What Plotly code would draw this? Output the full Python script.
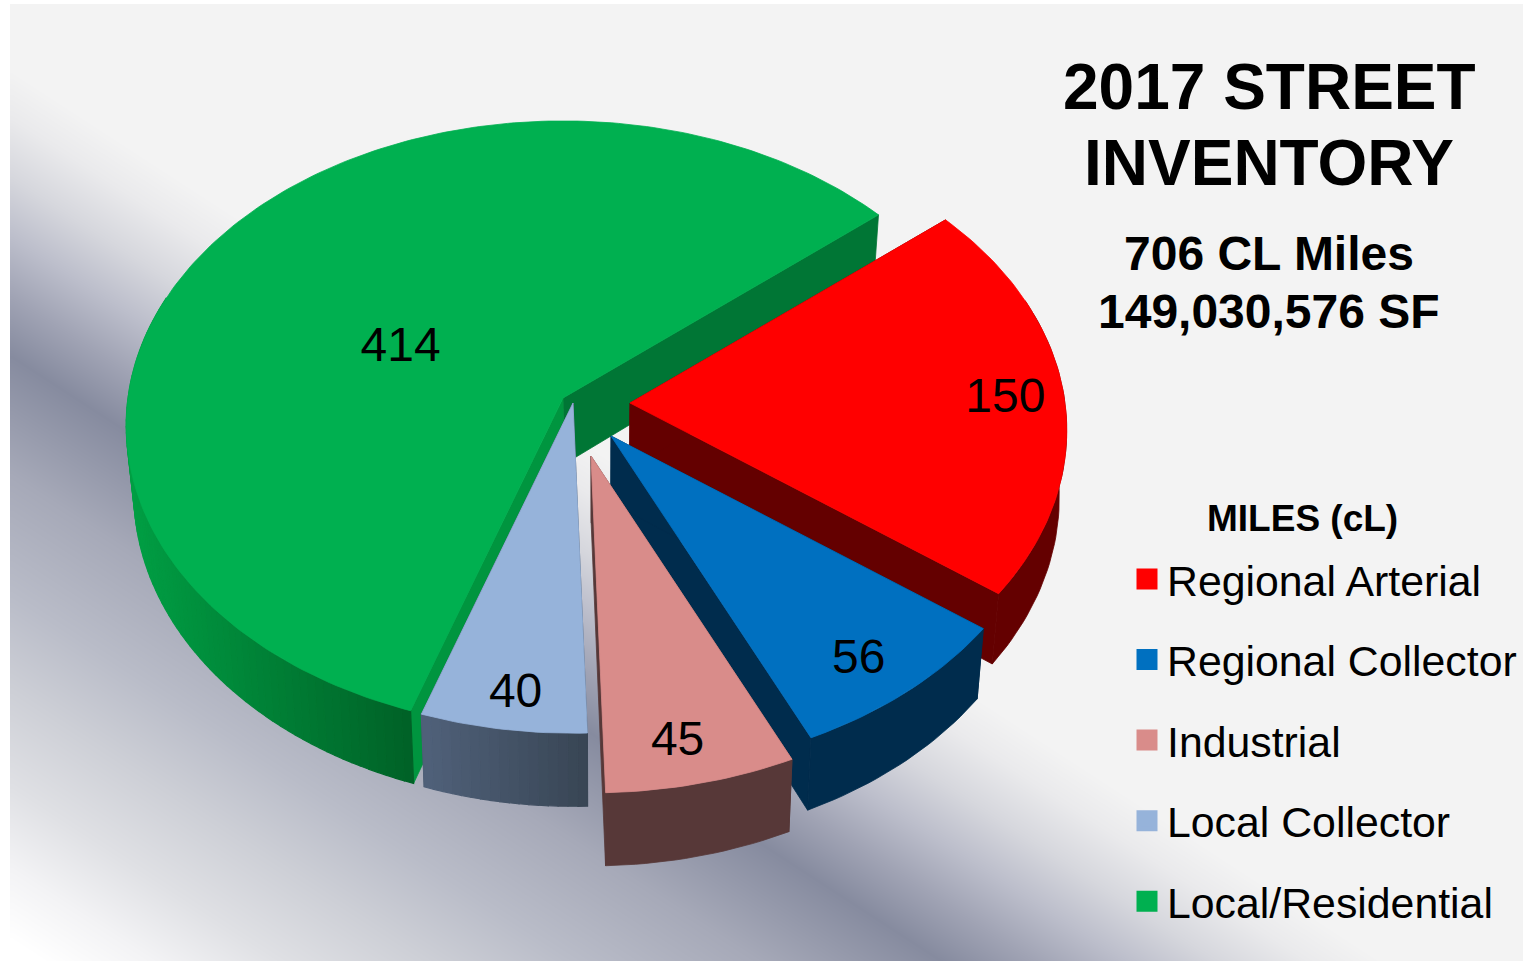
import numpy as np
import plotly.graph_objects as go

# ---- data ----
categories = ["Regional Arterial", "Regional Collector", "Industrial", "Local Collector", "Local/Residential"]
miles = [150, 56, 45, 40, 414]
tick_labels = ["150", "56", "45", "40", "414"]

# ---- style / 3-D pie layout ----
top_colors = ["#ff0000", "#0070c0", "#d98c8a", "#96b3da", "#00b050"]
start_wall = ["#640000", "#002c4d", "#573838", "#3e4b5c", "#00953f"]
end_wall = ["#640000", "#002c4d", "#573838", "#3e4b5c", "#007635"]
arc_left = ["#640000", "#002c4d", "#573838", "#50617a", "#009f44"]
arc_right = ["#640000", "#002c4d", "#573838", "#384554", "#006127"]
apex_x = [630, 611, 591, 573, 563]
apex_y = [403, 436, 456, 403, 398]
gain = [1.0, 1.01, 1.015, 0.995, 1.0]
label_r = [0.865, 0.86, 0.87, 0.89, 0.42]
label_shift = [0, 1.0, 1.2, -0.6, -9]
draw_order = [4, 0, 1, 2, 3]
START_DEG = 50.1
A, B, P, H = 435.0, 302.0, 0.09, 66.5
VANISH_X, LEAN = 600.0, 0.016
LABEL_DROP = 4.5
FONT = "Liberation Sans"


def project(i, angle_deg, r=1.0):
    t = np.radians(angle_deg)
    X, Y = r * np.sin(t), r * np.cos(t)
    s = 1.0 / (1.0 + P * Y)
    return apex_x[i] + gain[i] * A * X * s, apex_y[i] - gain[i] * B * Y * s, s


def drop(x, y, s):
    return x - (x - VANISH_X) * LEAN, y + H * s


def hex2rgb(c):
    return np.array([int(c[k:k + 2], 16) for k in (1, 3, 5)], float)


def mix(c1, c2, f):
    f = min(max(f, 0.0), 1.0)
    v = hex2rgb(c1) * (1 - f) + hex2rgb(c2) * f
    return "rgb(%d,%d,%d)" % tuple(v.round())


def poly(xs, ys, color, width=0.8):
    return go.Scatter(x=list(xs), y=list(ys), mode="lines", fill="toself", fillcolor=color,
                      line=dict(color=color, width=width), hoverinfo="skip", showlegend=False)


fig = go.Figure()

# gradient panel
gx = np.arange(12, 1526, 4.0)
gy = np.arange(6, 964, 4.0)
GX, GY = np.meshgrid(gx, gy)
band = (GY - (365 + 0.65 * (GX - 25))) / np.hypot(1, 0.65)
dmin, dmax = -240.0, 490.0
stops = [(-240, "#f3f3f3"), (-200, "#eaeaec"), (-150, "#d6d7dd"), (-100, "#bcbecb"), (-50, "#a0a3b4"),
         (0, "#868b9f"), (100, "#a6a9b8"), (200, "#b9bcc8"), (280, "#cdcfd6"), (360, "#dfe0e4"),
         (430, "#f3f3f5"), (490, "#ffffff")]
fig.add_trace(go.Heatmap(x=gx, y=gy, z=np.clip(band, dmin, dmax), zmin=dmin, zmax=dmax, zsmooth="best",
                         colorscale=[[(d - dmin) / (dmax - dmin), c] for d, c in stops],
                         showscale=False, hoverinfo="skip"))

# slices
total = float(sum(miles))
sweeps = [v / total * 360 for v in miles]
starts = [START_DEG + sum(sweeps[:k]) for k in range(len(miles))]

for i in draw_order:
    a0, a1 = starts[i], starts[i] + sweeps[i]
    ax, ay = apex_x[i], apex_y[i]
    abx, aby = drop(ax, ay, 1.0)
    # radial walls
    for ang, col in ((a1, end_wall[i]), (a0, start_wall[i])):
        x, y, s = project(i, ang)
        bx, by = drop(x, y, s)
        fig.add_trace(poly([ax, x, bx, abx, ax], [ay, y, by, aby, ay], col))
    # outer wall: only the part that faces the viewer
    n = max(int(sweeps[i] / 1.2), 6)
    angs = [a for a in np.linspace(a0, a1, n + 1) if np.cos(np.radians(a)) < 0.35]
    pts = [project(i, a) for a in angs]
    lo = [drop(*p) for p in pts]
    if arc_left[i] == arc_right[i]:
        fig.add_trace(poly([p[0] for p in pts] + [q[0] for q in lo[::-1]] + [pts[0][0]],
                           [p[1] for p in pts] + [q[1] for q in lo[::-1]] + [pts[0][1]], arc_left[i]))
    else:
        xl, xr = min(p[0] for p in pts), max(p[0] for p in pts)
        for k in range(len(pts) - 1):
            f = ((pts[k][0] + pts[k + 1][0]) / 2 - xl) / max(xr - xl, 1)
            col = mix(arc_left[i], arc_right[i], f)
            fig.add_trace(poly([pts[k][0], pts[k + 1][0], lo[k + 1][0], lo[k][0], pts[k][0]],
                               [pts[k][1], pts[k + 1][1], lo[k + 1][1], lo[k][1], pts[k][1]], col, 1.2))
    # top face
    angs = np.linspace(a0, a1, max(int(sweeps[i]), 10) + 1)
    rim = [project(i, a) for a in angs]
    fig.add_trace(poly([ax] + [p[0] for p in rim] + [ax], [ay] + [p[1] for p in rim] + [ay], top_colors[i]))

# data labels
lx, ly = [], []
for i in range(len(miles)):
    x, y, _ = project(i, starts[i] + sweeps[i] / 2 + label_shift[i], label_r[i])
    lx.append(x)
    ly.append(y + LABEL_DROP)
fig.add_trace(go.Scatter(x=lx, y=ly, mode="text", text=tick_labels, textposition="middle center",
                         textfont=dict(family=FONT, size=48, color="black"),
                         hoverinfo="skip", showlegend=False))

# legend entries
for c, col in zip(categories, top_colors):
    fig.add_trace(go.Scatter(x=[None], y=[None], mode="markers", name=c, legendgroup=c,
                             marker=dict(symbol="square", size=16, color=col, line=dict(color=col, width=6))))

titles = [("2017 STREET", 1269, 87, 64), ("INVENTORY", 1269, 163, 64),
          ("706 CL Miles", 1269, 253, 48), ("149,030,576 SF", 1269, 311, 48),
          ("MILES (cL)", 1302, 518, 37)]
for txt, x, y, size in titles:
    fig.add_annotation(x=x, y=y, xref="x", yref="y", text="<b>%s</b>" % txt, showarrow=False,
                       xanchor="center", yanchor="middle",
                       font=dict(family=FONT, size=size, color="black"))

fig.update_layout(
    width=1523, height=961, margin=dict(l=0, r=0, t=0, b=0),
    paper_bgcolor="white", plot_bgcolor="white",
    xaxis=dict(range=[0, 1523], visible=False, fixedrange=True),
    yaxis=dict(range=[961, 0], visible=False, fixedrange=True),
    legend=dict(x=1127 / 1523, y=1 - 544.7 / 961, xanchor="left", yanchor="top",
                bgcolor="rgba(0,0,0,0)", font=dict(family=FONT, size=42.8, color="black"),
                tracegroupgap=21.9, itemclick=False, itemdoubleclick=False),
)
fig.write_html("out.html", config={"displayModeBar": False},
               post_script="document.body.style.margin='0';document.documentElement.style.overflow='hidden';")
